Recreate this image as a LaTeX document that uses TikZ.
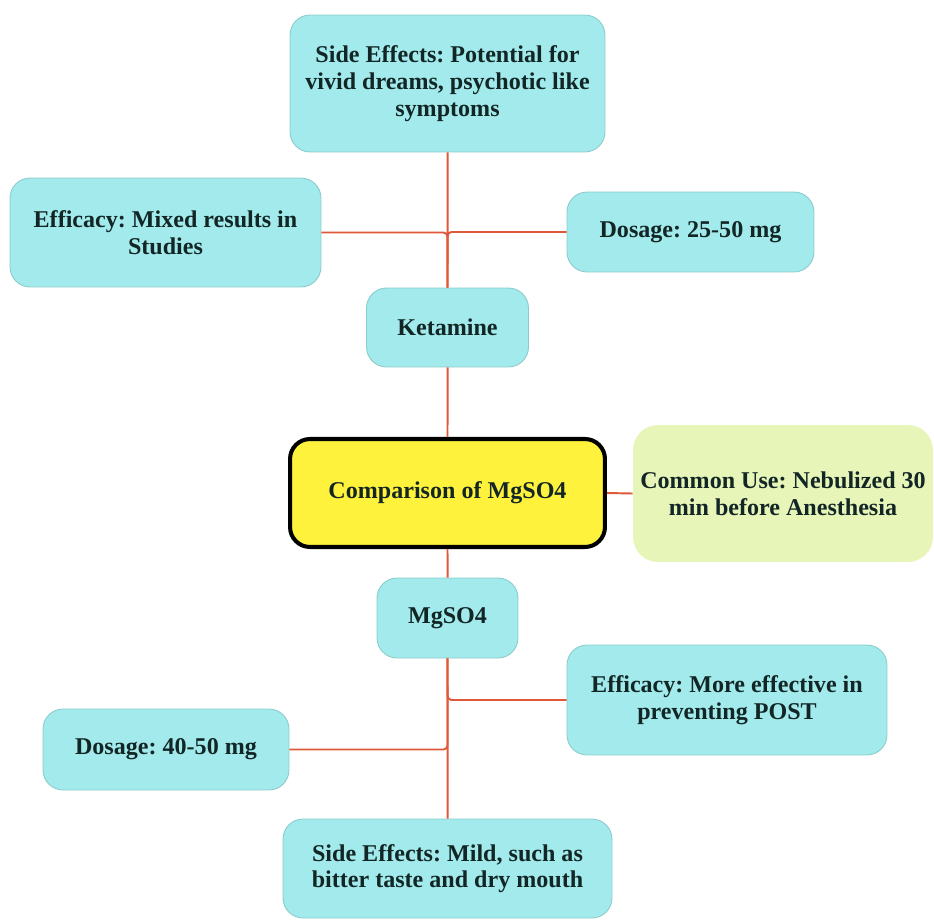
\documentclass[tikz,border=0pt]{standalone}
\usepackage{fontspec}
\setmainfont{Liberation Serif}
\frenchspacing
\definecolor{boxcyan}{HTML}{A2EAEC}
\definecolor{boxedge}{HTML}{8CCBCB}
\definecolor{rootyellow}{HTML}{FFF23C}
\definecolor{usegreen}{HTML}{E8F5B8}
\definecolor{linkred}{HTML}{E0583A}
\definecolor{textdark}{HTML}{132626}
\tikzset{
  txt/.style={align=center, text=textdark, inner sep=0pt, font=\fontsize{13.7}{15.2}\selectfont\bfseries},
  leaf/.style={txt, draw=boxedge, line width=0.5pt, fill=boxcyan, rounded corners=0.4cm},
  root/.style={txt, draw=black, line width=2.3pt, fill=rootyellow, rounded corners=0.4cm},
  note/.style={txt, fill=usegreen, rounded corners=0.5cm},
  link/.style={draw=linkred, line width=1.1pt},
  branch/.style={link, rounded corners=0.08cm},
}
\begin{document}
\begin{tikzpicture}[x=0.02cm, y=-0.02cm]
      \useasboundingbox (0,0) rectangle (934,920);
      \node[root, minimum width=6.3cm, minimum height=2.16cm] (comp) at (447.5,493) {Comparison of MgSO4};
      \node[note, minimum width=6cm, minimum height=2.74cm] (use) at (783,493.5) {Common Use: Nebulized 30\\min before Anesthesia};
      \node[leaf, minimum width=3.24cm, minimum height=1.58cm] (ket) at (447.5,327.5) {Ketamine};
      \node[leaf, minimum width=6.3cm, minimum height=2.74cm] (sidek) at (447.5,83.5) {Side Effects: Potential for\\vivid dreams, psychotic like\\symptoms};
      \node[leaf, minimum width=6.22cm, minimum height=2.18cm] (effk) at (165.5,232.5) {Efficacy: Mixed results in\\Studies};
      \node[leaf, minimum width=4.94cm, minimum height=1.6cm] (dosk) at (690.5,232) {Dosage: 25-50 mg};
      \node[leaf, minimum width=2.82cm, minimum height=1.6cm] (mg) at (447.5,618) {MgSO4};
      \node[leaf, minimum width=6.4cm, minimum height=2.2cm] (effm) at (727,700) {Efficacy: More effective in\\preventing POST};
      \node[leaf, minimum width=4.92cm, minimum height=1.62cm] (dosm) at (166,749.5) {Dosage: 40-50 mg};
      \node[leaf, minimum width=6.58cm, minimum height=1.98cm] (sidem) at (447.5,868.5) {Side Effects: Mild, such as\\bitter taste and dry mouth};
      \draw[link] (ket.north) -- ([xshift=0.1pt]sidek.south);
      \draw[branch] (ket.north) |- (effk.east);
      \draw[branch] (ket.north) |- (dosk.west);
      \draw[link] (comp.north) -- ([xshift=0.1pt]ket.south);
      \draw[link] (comp.south) -- ([xshift=0.1pt]mg.north);
      \draw[link] (comp.east) -- (use.west);
      \draw[branch] (mg.south) |- (effm.west);
      \draw[branch] (mg.south) |- (dosm.east);
      \draw[link] (mg.south) -- ([xshift=0.1pt]sidem.north);
\end{tikzpicture}
\end{document}
